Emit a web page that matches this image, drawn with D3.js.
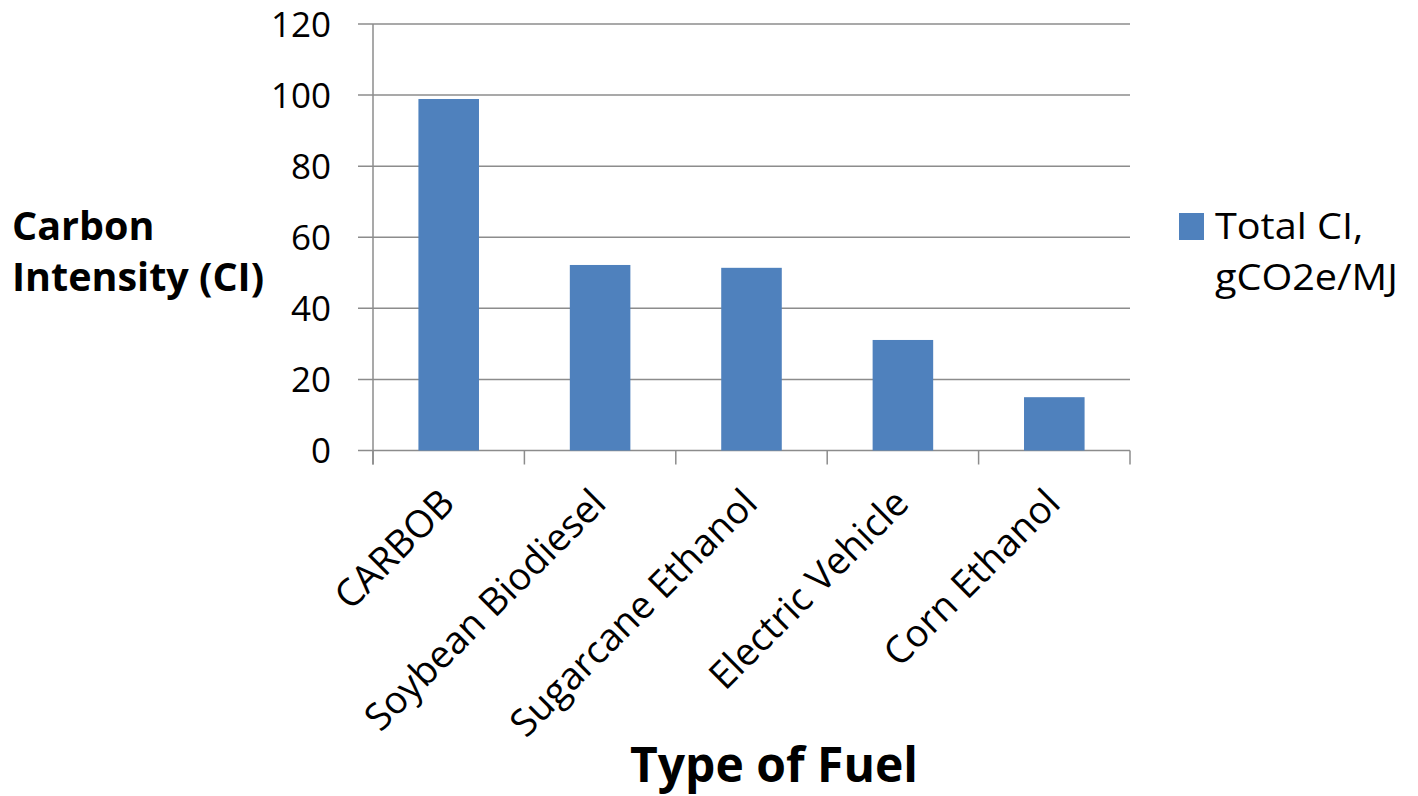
<!DOCTYPE html>
<html><head><meta charset="utf-8">
<script src="https://cdn.jsdelivr.net/npm/d3@7"></script>
<style>body{margin:0;background:#fff}svg{display:block}text{font-family:"Open Sans",sans-serif;fill:#000}</style>
</head><body>
<svg id="c" width="1418" height="796"></svg>
<script>
const categories = ["CARBOB","Soybean Biodiesel","Sugarcane Ethanol","Electric Vehicle","Corn Ethanol"];
const values = [98.9, 52.2, 51.4, 31.1, 15.0];
const yTicks = [0,20,40,60,80,100,120];
const seriesName = ["Total CI,","gCO2e/MJ"];

const svg = d3.select("#c");
const L=373, R=1130, T=24, B=450.5;
const x = d3.scaleBand().domain(categories).range([L,R]).paddingInner(0.6).paddingOuter(0.3);
const xb = d3.scaleBand().domain(categories).range([L,R]);
const y = d3.scaleLinear().domain([0,120]).range([B,T]);
const grid="#8c8c8c";

svg.append("g").selectAll("line").data(yTicks).join("line")
  .attr("x1",358).attr("x2",R).attr("y1",d=>y(d)).attr("y2",d=>y(d))
  .attr("stroke",grid).attr("stroke-width",1.5);
svg.append("line").attr("x1",L).attr("x2",L).attr("y1",T).attr("y2",B+14).attr("stroke",grid).attr("stroke-width",1.5);
svg.append("g").selectAll("line").data(categories.concat(["end"])).join("line")
  .attr("x1",(d,i)=>L+i*xb.step()).attr("x2",(d,i)=>L+i*xb.step())
  .attr("y1",B).attr("y2",B+14).attr("stroke",grid).attr("stroke-width",1.5);
svg.append("g").selectAll("text").data(yTicks).join("text")
  .attr("x",331).attr("y",d=>y(d)).attr("dy","0.36em").attr("text-anchor","end")
  .attr("font-size",35).text(d=>d);
svg.append("g").selectAll("rect").data(values).join("rect")
  .attr("x",(d,i)=>x(categories[i])).attr("width",x.bandwidth())
  .attr("y",d=>y(d)).attr("height",d=>B-y(d)).attr("fill","#4F81BD");
svg.append("g").selectAll("text").data(categories).join("text")
  .attr("transform",d=>`translate(${xb(d)+xb.bandwidth()/2+8},${B+55}) rotate(-45)`)
  .attr("text-anchor","end").attr("font-size",38).text(d=>d);
const yt = svg.append("text").attr("font-size",39.5).attr("font-weight","bold");
yt.append("tspan").attr("x",12).attr("y",240).text("Carbon");
yt.append("tspan").attr("x",12).attr("y",291).text("Intensity (CI)");
svg.append("text").attr("x",774).attr("y",782).attr("text-anchor","middle")
  .attr("font-size",48).attr("font-weight","bold").text("Type of Fuel");
svg.append("rect").attr("x",1179).attr("y",213).attr("width",25).attr("height",27).attr("fill","#4F81BD");
const lt = svg.append("g").attr("transform","translate(1215,0) scale(1.1,1)").append("text").attr("font-size",36);
lt.selectAll("tspan").data(seriesName).join("tspan").attr("x",0).attr("y",(d,i)=>239+i*51).text(d=>d);
</script>
</body></html>
